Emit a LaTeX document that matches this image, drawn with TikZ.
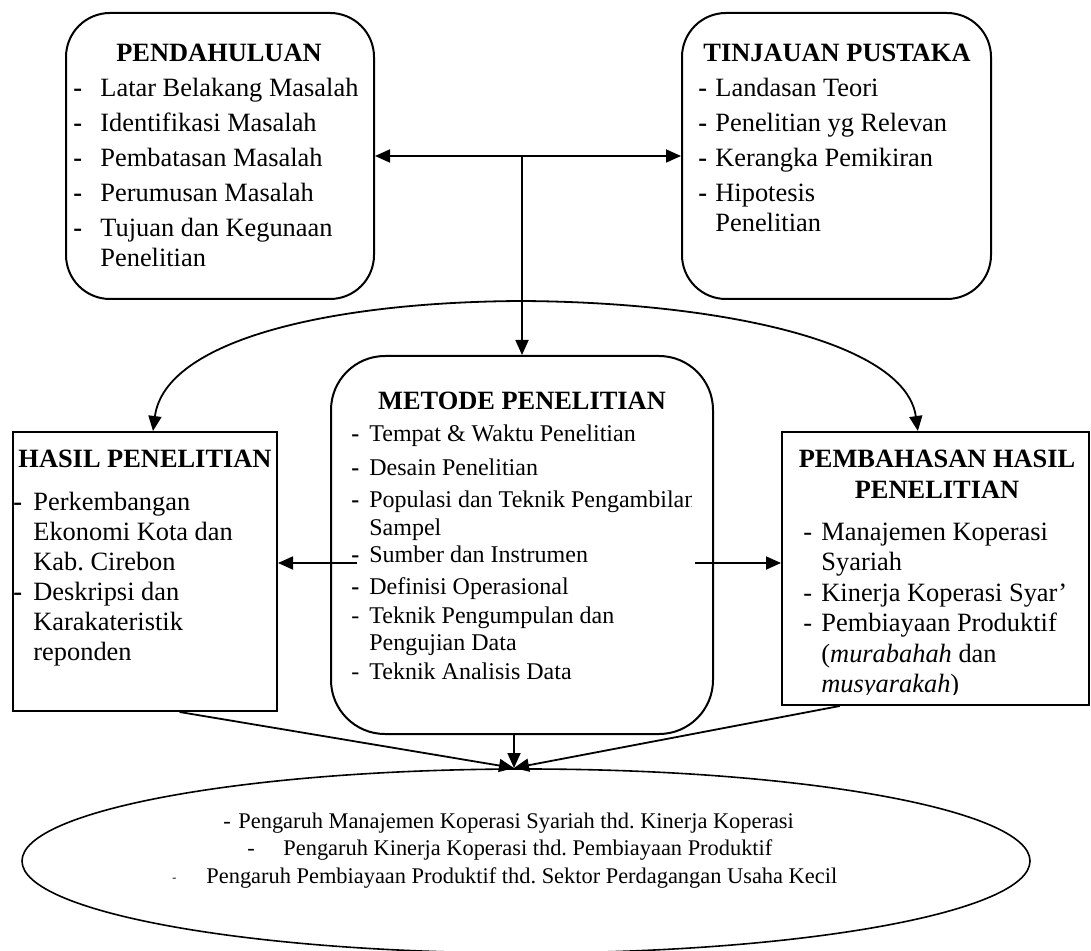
\documentclass[tikz,border=0pt]{standalone}
\usepackage{fontspec}
\setmainfont{Liberation Serif}
\usetikzlibrary{arrows.meta,calc,shapes.geometric}
\frenchspacing
\begin{document}
\begin{tikzpicture}[x=0.5pt,y=-0.5pt,
  frame/.style={draw,line width=1pt,inner sep=0pt,anchor=north west},
  rframe/.style={frame,rounded corners=22pt},
  itm/.style={inner sep=0pt,anchor=base west,font=\fontsize{13.2}{15}\selectfont},
  sitm/.style={inner sep=0pt,anchor=base west,font=\fontsize{12}{14}\selectfont},
  ttl/.style={inner sep=0pt,anchor=base,font=\fontsize{13.2}{15}\selectfont\bfseries},
  etxt/.style={inner sep=0pt,anchor=base west,font=\fontsize{11.2}{13}\selectfont},
  conn/.style={line width=0.9pt},
  arr/.style={conn,-{Triangle[length=7.5pt,width=6.5pt]}},
  dblarr/.style={conn,{Triangle[length=7.5pt,width=6.5pt]}-{Triangle[length=7.5pt,width=6.5pt]}},
]
\useasboundingbox (0,0) rectangle (1091,951);

% ---------- frames ----------
\node[rframe,minimum width=154pt,minimum height=143pt] (pend) at (65,12) {};
\node[rframe,minimum width=154.5pt,minimum height=143pt] (tinj) at (681,12) {};
\node[frame,rounded corners=27pt,minimum width=191pt,minimum height=189pt] (metode) at (330,355) {};
\node[frame,minimum width=132pt,minimum height=139.5pt] (hasil) at (12,431) {};
\node[frame,minimum width=153.5pt,minimum height=136.5pt] (pemb) at (781,431) {};
\node[draw,ellipse,line width=0.8pt,inner sep=0pt,minimum width=504pt,minimum height=92pt] (akhir) at (526,861) {};

% ---------- PENDAHULUAN ----------
\node[ttl] (pendT) at (219,62) {PENDAHULUAN};
\node[itm] (pd1) at (73,97)  {\textbf{-}};
\node[itm] (pt1) at (100,97) {Latar Belakang Masalah};
\node[itm] (pd2) at (73,132) {\textbf{-}};
\node[itm] (pt2) at (100,132) {Identifikasi Masalah};
\node[itm] (pd3) at (73,167) {\textbf{-}};
\node[itm] (pt3) at (100,167) {Pembatasan Masalah};
\node[itm] (pd4) at (73,202) {\textbf{-}};
\node[itm] (pt4) at (100,202) {Perumusan Masalah};
\node[itm] (pd5) at (73,237) {\textbf{-}};
\node[itm] (pt5) at (100,237) {Tujuan dan Kegunaan};
\node[itm] (pt6) at (100,267) {Penelitian};

% ---------- TINJAUAN PUSTAKA ----------
\node[ttl] (tinjT) at (837,62) {TINJAUAN PUSTAKA};
\node[itm] (td1) at (698,97)  {\textbf{-}};
\node[itm] (tt1) at (715,97)  {Landasan Teori};
\node[itm] (td2) at (698,132) {\textbf{-}};
\node[itm] (tt2) at (715,132) {Penelitian yg Relevan};
\node[itm] (td3) at (698,167) {\textbf{-}};
\node[itm] (tt3) at (715,167) {Kerangka Pemikiran};
\node[itm] (td4) at (698,202) {\textbf{-}};
\node[itm] (tt4) at (715,202) {Hipotesis};
\node[itm] (tt5) at (715,232) {Penelitian};

% ---------- METODE PENELITIAN ----------
\node[ttl] (metT) at (522,410) {METODE PENELITIAN};
\node[sitm] (md1) at (351,442) {\textbf{-}};
\node[sitm] (mt1) at (369,442) {Tempat \& Waktu Penelitian};
\node[sitm] (md2) at (351,475) {\textbf{-}};
\node[sitm] (mt2) at (369,475) {Desain Penelitian};
\node[sitm] (md3) at (351,508) {\textbf{-}};
\begin{scope}
  \clip (360,480) rectangle (691,520);
  \node[sitm] (mt3) at (369,508) {Populasi dan Teknik Pengambilan};
\end{scope}
\node[sitm] (mt3b) at (369,535) {Sampel};
\node[sitm] (md4) at (351,562) {\textbf{-}};
\node[sitm] (mt4) at (369,562) {Sumber dan Instrumen};
\node[sitm] (md5) at (351,594) {\textbf{-}};
\node[sitm] (mt5) at (369,594) {Definisi Operasional};
\node[sitm] (md6) at (351,623) {-};
\node[sitm] (mt6) at (369,623) {Teknik Pengumpulan dan};
\node[sitm] (mt6b) at (369,650) {Pengujian Data};
\node[sitm] (md7) at (351,679) {-};
\node[sitm] (mt7) at (369,679) {Teknik Analisis Data};

% ---------- HASIL PENELITIAN ----------
\node[ttl] (hasT) at (145,467) {HASIL PENELITIAN};
\node[itm] (hd1) at (13,510) {\textbf{-}};
\node[itm] (ht1) at (33,510) {Perkembangan};
\node[itm] (ht1b) at (33,540) {Ekonomi Kota dan};
\node[itm] (ht1c) at (33,570) {Kab. Cirebon};
\node[itm] (hd2) at (13,600) {\textbf{-}};
\node[itm] (ht2) at (33,600) {Deskripsi dan};
\node[itm] (ht2b) at (33,630) {Karakateristik};
\node[itm] (ht2c) at (33,660) {reponden};

% ---------- PEMBAHASAN HASIL PENELITIAN ----------
\node[ttl] (pemT1) at (937,467) {PEMBAHASAN HASIL};
\node[ttl] (pemT2) at (937,498) {PENELITIAN};
\node[itm] (bd1) at (803,540) {-};
\node[itm] (bt1) at (821,540) {Manajemen Koperasi};
\node[itm] (bt1b) at (821,570) {Syariah};
\node[itm] (bd2) at (803,601) {-};
\node[itm] (bt2) at (821,601) {Kinerja Koperasi Syar’};
\node[itm] (bd3) at (803,631) {-};
\node[itm] (bt3) at (821,631) {Pembiayaan Produktif};
\node[itm] (bt3b) at (821,662) {(\textit{murabahah} dan};
\begin{scope}
  \clip (800,670) rectangle (1080,694);
  \node[itm] (bt3c) at (821,692) {\textit{musyarakah})};
\end{scope}

% ---------- conclusion ellipse text ----------
\node[etxt] (ed1) at (223,828) {-};
\node[etxt] (et1) at (238,828) {Pengaruh Manajemen Koperasi Syariah thd. Kinerja Koperasi};
\node[etxt] (ed2) at (247,855) {-};
\node[etxt] (et2) at (283,855) {Pengaruh Kinerja Koperasi thd. Pembiayaan Produktif};
\node[inner sep=0pt,anchor=base west,font=\fontsize{6}{7}\selectfont] (ed3) at (172,881) {-};
\node[etxt] (et3) at (206,883) {Pengaruh Pembiayaan Produktif thd. Sektor Perdagangan Usaha Kecil};

% ---------- connectors ----------
\draw[dblarr] (pend.east) -- (tinj.west);
\coordinate (hub) at (metode.north |- pend.east);
\draw[arr] (hub) -- (metode.north);

\coordinate (split) at (521,301);
\draw[arr] (split) .. controls (330,302) and (165,340) .. ($(hasil.north west)!0.53!(hasil.north east)$);
\draw[arr] (split) .. controls (714,302) and (905,340) .. ($(pemb.north west)!0.443!(pemb.north east)$);

\coordinate (mL) at (357,563);
\coordinate (mR) at (695,563);
\draw[arr] (mL) -- (mL -| hasil.east);
\draw[arr] (mR) -- (mR -| pemb.west);

\coordinate (meet) at (514,768);
\draw[arr] ($(hasil.south west)!0.63!(hasil.south east)$) -- (meet);
\draw[arr] (meet |- metode.south) -- (meet);
\draw[arr] ($(pemb.south west)!0.19!(pemb.south east)$) -- (meet);
\end{tikzpicture}
\end{document}
